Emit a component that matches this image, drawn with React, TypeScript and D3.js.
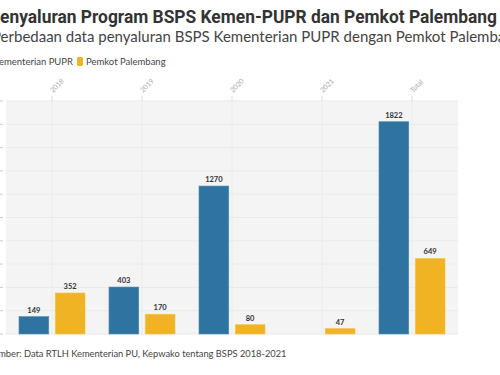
import React from "react";
import * as d3 from "d3";

const categories = ["2018", "2019", "2020", "2021", "Total"];
const seriesNames = ["Kementerian PUPR", "Pemkot Palembang"];
const pupr = [149, 403, 1270, 0, 1822];
const pemkot = [352, 170, 80, 47, 649];
const yTicks = [0, 200, 400, 600, 800, 1000, 1200, 1400, 1600, 1800, 2000];
const colors = ["#2f74a0", "#f0b323"];

const title = "Penyaluran Program BSPS Kemen-PUPR dan Pemkot Palembang";
const subtitle = "Perbedaan data penyaluran BSPS Kementerian PUPR dengan Pemkot Palembang";
const source = "Sumber: Data RTLH Kementerian PU, Kepwako tentang BSPS 2018-2021";

export default function App() {
  const W = 500, H = 375;
  const plot = { left: 6, right: 458, top: 101, bottom: 334 };
  const x = d3.scaleBand<string>().domain(categories).range([7, 457]);
  const xs = d3.scaleBand<string>().domain(seriesNames).range([12, 78]).paddingInner(0.18);
  const y = d3.scaleLinear().domain([0, 2000]).range([plot.bottom, plot.top]);
  const values = [pupr, pemkot];
  const font = "Lato, 'Open Sans', sans-serif";

  return (
    <svg width={W} height={H} style={{ position: "absolute", left: 0, top: 0 }}>
      <rect x={0} y={0} width={W} height={H} fill="#fff" />
      <text x={-11} y={23} fontFamily="Roboto, sans-serif" fontWeight={700} fontSize={19} fill="#333" textLength={508} lengthAdjust="spacingAndGlyphs">{title}</text>
      <text x={-8} y={42} fontFamily={font} fontSize={15} fill="#444">{subtitle}</text>
      {/* legend */}
      <rect x={-8} y={57} width={6} height={9} rx={1.5} fill={colors[0]} />
      <text x={73} y={65} textAnchor="end" fontFamily={font} fontSize={9.5} fill="#444">{seriesNames[0]}</text>
      <rect x={77} y={57} width={6} height={9} rx={1.5} fill={colors[1]} />
      <text x={86} y={65} fontFamily={font} fontSize={9.5} fill="#444">{seriesNames[1]}</text>

      <rect x={plot.left} y={plot.top} width={plot.right - plot.left} height={plot.bottom - plot.top} fill="#f4f4f4" />
      {yTicks.map((t) => (
        <g key={t}>
          <line x1={plot.left} x2={plot.right} y1={y(t)} y2={y(t)} stroke="#e9e9e9" strokeWidth={1} />
          <line x1={0} x2={3} y1={y(t)} y2={y(t)} stroke="#ccc" strokeWidth={1} />
        </g>
      ))}
      {categories.map((c) => {
        const cx = (x(c) as number) + x.bandwidth() / 2;
        return (
          <g key={c}>
            <line x1={cx} x2={cx} y1={plot.top} y2={plot.bottom} stroke="#ececec" />
            <line x1={cx} x2={cx} y1={96} y2={plot.top} stroke="#ddd" />
            <text transform={`translate(${cx + 1},${93}) rotate(-45)`} fontFamily={font} fontSize={7} fill="#aaa">{c}</text>
          </g>
        );
      })}
      {categories.map((c, i) =>
        seriesNames.map((s, j) => {
          const v = values[j][i];
          if (!v) return null;
          const bx = (x(c) as number) + (xs(s) as number);
          return (
            <g key={c + s}>
              <rect x={bx} y={y(v)} width={xs.bandwidth()} height={y(0) - y(v)} fill={colors[j]} stroke={j === 0 ? "#4a8ab3" : "#f6c64e"} strokeWidth={0.6} />
              <text x={bx + xs.bandwidth() / 2} y={y(v) - 4} textAnchor="middle" fontFamily={font} fontWeight={700} fontSize={7.5} fill="#333">{v}</text>
            </g>
          );
        })
      )}
      <text x={-12} y={357} fontFamily={font} fontSize={9.3} fill="#444">{source}</text>
    </svg>
  );
}
